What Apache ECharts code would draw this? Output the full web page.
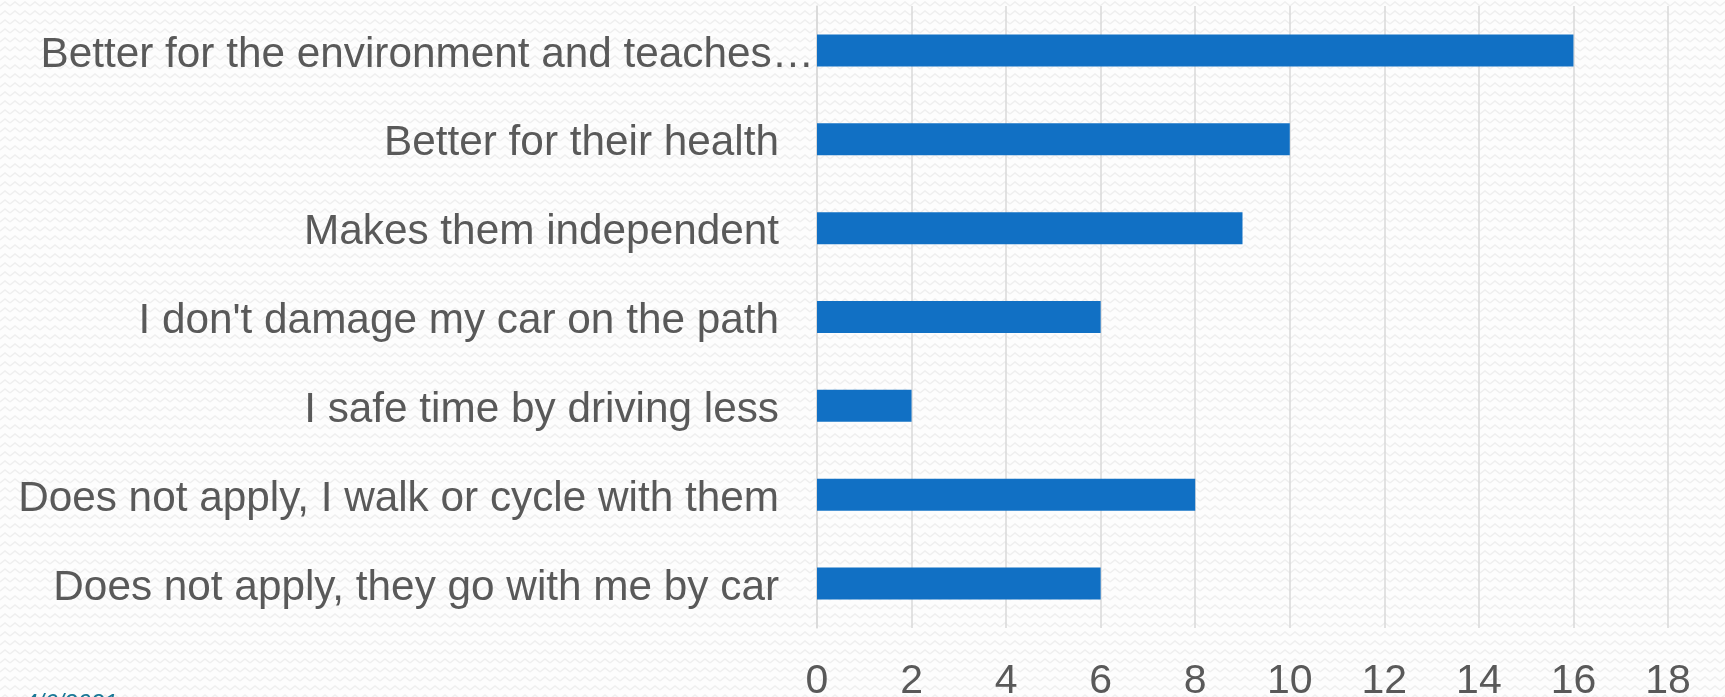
<!DOCTYPE html>
<html>
<head>
<meta charset="utf-8">
<script src="https://cdn.jsdelivr.net/npm/echarts@6/dist/echarts.min.js"></script>
<style>
  html, body { margin: 0; padding: 0; }
  #reasonChart { width: 1725px; height: 697px; }
</style>
</head>
<body>
<div id="reasonChart"></div>
<script>
// categories top to bottom
const reasons = [
  'Better for the environment and teaches\u2026',
  'Better for their health',
  'Makes them independent',
  "I don't damage my car on the path",
  'I safe time by driving less',
  'Does not apply, I walk or cycle with them',
  'Does not apply, they go with me by car'
];
const counts = [16, 10, 9, 6, 2, 8, 6];
const axisMax = 18;
const axisStep = 2;

// light zigzag background like the slide
function makePattern() {
  let c = document.createElement('canvas');
  c.width = 10;
  c.height = 9;
  let ctx = c.getContext('2d');
  ctx.fillStyle = '#fdfdfd';
  ctx.fillRect(0, 0, 10, 9);
  ctx.strokeStyle = '#efefef';
  ctx.lineWidth = 1.5;
  ctx.beginPath();
  ctx.moveTo(0, 6);
  ctx.lineTo(5, 2);
  ctx.lineTo(10, 6);
  ctx.stroke();
  return c;
}

let chart = echarts.init(document.getElementById('reasonChart'));
let labelFont = { fontFamily: 'Liberation Sans, Arial, sans-serif', fontSize: 42.3, color: '#595959' };
let option = {
  backgroundColor: { image: makePattern(), repeat: 'repeat' },
  animation: false,
  grid: { left: 817, top: 6, width: 851, height: 622, containLabel: false, outerBoundsMode: 'none' },
  xAxis: {
    type: 'value',
    min: 0,
    max: axisMax,
    interval: axisStep,
    axisLine: { show: false },
    axisTick: { show: false },
    splitLine: { lineStyle: { color: '#d9d9d9', width: 1.5 } },
    axisLabel: {
      margin: 33,
      fontFamily: 'Liberation Sans, Arial, sans-serif',
      fontSize: 41,
      color: '#595959'
    }
  },
  yAxis: {
    type: 'category',
    inverse: true,
    data: reasons,
    axisLine: { lineStyle: { color: '#d9d9d9', width: 1.5 } },
    axisTick: { show: false },
    axisLabel: {
      margin: 3,
      formatter: function (v, i) {
        return i === 0 ? '{f|' + v + '}' : '{n|' + v + '}';
      },
      rich: {
        f: Object.assign({ padding: [9, 0, 0, 0] }, labelFont),
        n: Object.assign({ padding: [9, 35, 0, 0] }, labelFont)
      }
    }
  },
  series: [{
    type: 'bar',
    data: counts,
    barWidth: 32,
    itemStyle: { color: '#1170c4' }
  }],
  graphic: [{
    type: 'text',
    left: 24,
    top: 692,
    style: {
      text: '4/6/2021',
      font: 'italic 24px Liberation Sans, Arial, sans-serif',
      fill: '#1a7896'
    }
  }]
};
chart.setOption(option);
</script>
</body>
</html>
